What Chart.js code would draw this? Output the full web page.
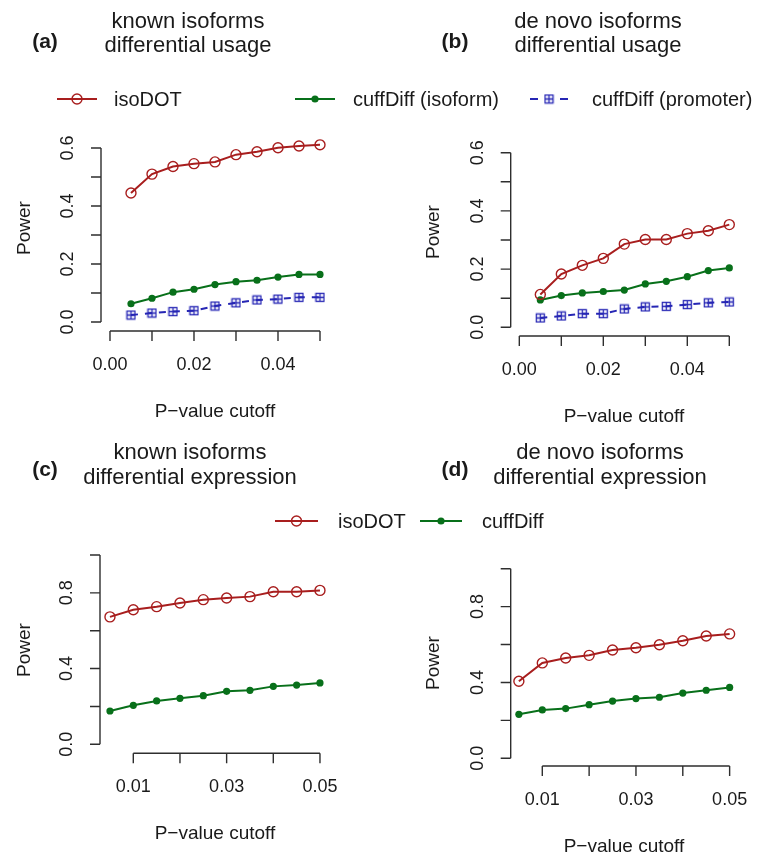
<!DOCTYPE html>
<html>
<head>
<meta charset="utf-8">
<script src="https://cdn.jsdelivr.net/npm/chart.js@4.4.0/dist/chart.umd.min.js"></script>
<style>
body { margin: 0; background: #fff; }
#page { position: relative; width: 768px; height: 857px; font-family: "Liberation Sans", Arial, sans-serif; color: #1a1a1a; overflow: hidden; }
#page canvas { position: absolute; left: 0; top: 0; }
.t { position: absolute; white-space: nowrap; transform: translate(-50%, -50%); line-height: 1; }
.ttl { font-size: 22px; }
.tag { font-size: 21px; font-weight: bold; }
.lab { font-size: 19px; }
.rot { transform: translate(-50%, -50%) rotate(-90deg); }
</style>
</head>
<body>
<div id="page">
  <canvas id="pa" width="768" height="857"></canvas>
  <canvas id="pb" width="768" height="857"></canvas>
  <canvas id="pc" width="768" height="857"></canvas>
  <canvas id="pd" width="768" height="857"></canvas>

  <div class="t tag" style="left:45px;top:40px">(a)</div>
  <div class="t ttl" style="left:188px;top:21px">known isoforms</div>
  <div class="t ttl" style="left:188px;top:45px">differential usage</div>
  <div class="t tag" style="left:455px;top:40px">(b)</div>
  <div class="t ttl" style="left:598px;top:21px">de novo isoforms</div>
  <div class="t ttl" style="left:598px;top:45px">differential usage</div>
  <div class="t tag" style="left:45px;top:468px">(c)</div>
  <div class="t ttl" style="left:190px;top:452px">known isoforms</div>
  <div class="t ttl" style="left:190px;top:477px">differential expression</div>
  <div class="t tag" style="left:455px;top:468px">(d)</div>
  <div class="t ttl" style="left:600px;top:452px">de novo isoforms</div>
  <div class="t ttl" style="left:600px;top:477px">differential expression</div>

  <div class="t lab rot" style="left:23px;top:228px">Power</div>
  <div class="t lab rot" style="left:432px;top:232px">Power</div>
  <div class="t lab rot" style="left:23px;top:650px">Power</div>
  <div class="t lab rot" style="left:432px;top:663px">Power</div>
  <div class="t lab" style="left:215px;top:410px">P−value cutoff</div>
  <div class="t lab" style="left:624px;top:415px">P−value cutoff</div>
  <div class="t lab" style="left:215px;top:832px">P−value cutoff</div>
  <div class="t lab" style="left:624px;top:845px">P−value cutoff</div>
</div>
<script>
// p-value cutoffs on the x axis
const cutoffs = [0.005, 0.01, 0.015, 0.02, 0.025, 0.03, 0.035, 0.04, 0.045, 0.05];

// (a) known isoforms, differential usage
const knownUsageIsoDOT = [0.445, 0.510, 0.536, 0.546, 0.552, 0.577, 0.587, 0.601, 0.607, 0.611];
const knownUsageCuffIso = [0.063, 0.082, 0.103, 0.113, 0.129, 0.139, 0.144, 0.155, 0.164, 0.164];
const knownUsageCuffProm = [0.024, 0.031, 0.036, 0.039, 0.055, 0.066, 0.076, 0.079, 0.085, 0.085];
// (b) de novo isoforms, differential usage
const novoUsageIsoDOT = [0.113, 0.183, 0.213, 0.237, 0.286, 0.302, 0.302, 0.322, 0.332, 0.353];
const novoUsageCuffIso = [0.094, 0.109, 0.118, 0.123, 0.128, 0.149, 0.158, 0.174, 0.195, 0.204];
const novoUsageCuffProm = [0.032, 0.039, 0.047, 0.047, 0.063, 0.070, 0.072, 0.078, 0.084, 0.087];
// (c) known isoforms, differential expression
const knownExprIsoDOT = [0.673, 0.711, 0.727, 0.746, 0.764, 0.773, 0.780, 0.806, 0.806, 0.813];
const knownExprCuff = [0.176, 0.206, 0.229, 0.243, 0.257, 0.280, 0.285, 0.306, 0.313, 0.324];
// (d) de novo isoforms, differential expression
const novoExprIsoDOT = [0.406, 0.503, 0.529, 0.543, 0.571, 0.583, 0.599, 0.620, 0.645, 0.656];
const novoExprCuff = [0.232, 0.255, 0.262, 0.283, 0.302, 0.315, 0.322, 0.344, 0.359, 0.374];

const usageNames = ['isoDOT', 'cuffDiff (isoform)', 'cuffDiff (promoter)'];
const exprNames = ['isoDOT', 'cuffDiff'];

// ticks (empty label = tick mark only, as R drops crowded labels)
const usageXTicks = [0, 0.01, 0.02, 0.03, 0.04, 0.05];
const usageXLabels = ['0.00', '', '0.02', '', '0.04', ''];
const usageYTicks = [0, 0.1, 0.2, 0.3, 0.4, 0.5, 0.6];
const usageYLabels = ['0.0', '', '0.2', '', '0.4', '', '0.6'];
const exprXTicks = [0.01, 0.02, 0.03, 0.04, 0.05];
const exprXLabels = ['0.01', '', '0.03', '', '0.05'];
const exprYTicks = [0, 0.2, 0.4, 0.6, 0.8, 1.0];
const exprYLabels = ['0.0', '', '0.4', '', '0.8', ''];

const RED = '#a81e1e', GREEN = '#08701a', BLUE = '#2626b4', INK = '#1a1a1a', AXIS = '#2e2e2e';
const FONT = '"Liberation Sans", Arial, sans-serif';

// pch 12 style marker: square with a plus inside
const boxPlus = document.createElement('canvas');
boxPlus.width = 11; boxPlus.height = 11;
(function () {
	const c = boxPlus.getContext('2d');
	c.strokeStyle = BLUE; c.lineWidth = 1.3;
	c.strokeRect(1.5, 1.5, 8, 8);
	c.beginPath();
	c.moveTo(5.5, 1.5); c.lineTo(5.5, 9.5);
	c.moveTo(1.5, 5.5); c.lineTo(9.5, 5.5);
	c.stroke();
})();

function isoDOTSet(vals) {
	return { label: 'isoDOT', data: cutoffs.map((c, i) => ({ x: c, y: vals[i] })), borderColor: RED, borderWidth: 2,
		pointStyle: 'circle', pointRadius: 5, pointBorderWidth: 1.4, pointBorderColor: RED, pointBackgroundColor: 'rgba(0,0,0,0)', tension: 0 };
}
function cuffSet(vals, name) {
	return { label: name, data: cutoffs.map((c, i) => ({ x: c, y: vals[i] })), borderColor: GREEN, borderWidth: 2,
		pointStyle: 'circle', pointRadius: 3.6, pointBorderWidth: 0, pointBackgroundColor: GREEN, tension: 0 };
}
function promSet(vals, name) {
	return { label: name, data: cutoffs.map((c, i) => ({ x: c, y: vals[i] })), borderColor: BLUE, borderWidth: 2,
		borderDash: [7, 7], pointStyle: boxPlus, pointRadius: 5, tension: 0 };
}

function drawMarker(ctx, ds, x, y) {
	if (ds.pointStyle === boxPlus) { ctx.drawImage(boxPlus, x - 5.5, y - 5.5); return; }
	ctx.beginPath();
	ctx.arc(x, y, ds.pointRadius, 0, Math.PI * 2);
	if (ds.pointBorderWidth) { ctx.lineWidth = ds.pointBorderWidth; ctx.strokeStyle = ds.pointBorderColor; ctx.stroke(); }
	else { ctx.fillStyle = ds.pointBackgroundColor; ctx.fill(); }
}

// R style detached axes
const rAxes = {
	id: 'rAxes',
	afterDraw(chart, args, o) {
		const ctx = chart.ctx, xs = chart.scales.x, ys = chart.scales.y, ca = chart.chartArea;
		ctx.save();
		ctx.strokeStyle = AXIS; ctx.lineWidth = 1.4; ctx.setLineDash([]);
		const ax = ca.left, ay = ca.bottom;
		ctx.beginPath();
		ctx.moveTo(ax, ys.getPixelForValue(o.yTicks[0]));
		ctx.lineTo(ax, ys.getPixelForValue(o.yTicks[o.yTicks.length - 1]));
		o.yTicks.forEach(v => { const p = ys.getPixelForValue(v); ctx.moveTo(ax, p); ctx.lineTo(ax - 10, p); });
		ctx.moveTo(xs.getPixelForValue(o.xTicks[0]), ay);
		ctx.lineTo(xs.getPixelForValue(o.xTicks[o.xTicks.length - 1]), ay);
		o.xTicks.forEach(v => { const p = xs.getPixelForValue(v); ctx.moveTo(p, ay); ctx.lineTo(p, ay + 10); });
		ctx.stroke();

		ctx.fillStyle = INK;
		ctx.font = '18px ' + FONT;
		ctx.textAlign = 'center'; ctx.textBaseline = 'middle';
		o.yTicks.forEach((v, i) => {
			if (!o.yLabels[i]) return;
			ctx.save();
			ctx.translate(ax - 33, ys.getPixelForValue(v));
			ctx.rotate(-Math.PI / 2);
			ctx.fillText(o.yLabels[i], 0, 0);
			ctx.restore();
		});
		o.xTicks.forEach((v, i) => {
			if (!o.xLabels[i]) return;
			ctx.fillText(o.xLabels[i], xs.getPixelForValue(v), ay + 34);
		});
		ctx.restore();
	}
};

// legend row: line + marker + label for each dataset
const rLegend = {
	id: 'rLegend',
	afterDraw(chart, args, o) {
		if (!o.items) return;
		const ctx = chart.ctx;
		ctx.save();
		chart.data.datasets.forEach((ds, i) => {
			const it = o.items[i];
			ctx.strokeStyle = ds.borderColor; ctx.lineWidth = 2;
			ctx.beginPath();
			if (ds.borderDash) {
				ctx.moveTo(it[0], o.y); ctx.lineTo(it[0] + 8, o.y);
				ctx.moveTo(it[1] - 8, o.y); ctx.lineTo(it[1], o.y);
			} else {
				ctx.moveTo(it[0], o.y); ctx.lineTo(it[1], o.y);
			}
			ctx.stroke();
			drawMarker(ctx, ds, (it[0] + it[1]) / 2, o.y);
			ctx.fillStyle = INK;
			ctx.font = '20px ' + FONT;
			ctx.textAlign = 'left'; ctx.textBaseline = 'middle';
			ctx.fillText(ds.label, it[2], o.y + 1);
		});
		ctx.restore();
	}
};

function panel(id, datasets, area, lim, axes, legend) {
	new Chart(document.getElementById(id), {
		type: 'line',
		data: { datasets: datasets },
		options: {
			responsive: false, animation: false, events: [],
			layout: { padding: { left: area[0], top: area[1], right: 768 - area[2], bottom: 857 - area[3] } },
			scales: {
				x: { type: 'linear', display: false, min: lim[0], max: lim[1] },
				y: { type: 'linear', display: false, min: lim[2], max: lim[3] }
			},
			elements: { line: { clip: false } },
			plugins: { legend: { display: false }, tooltip: { enabled: false }, rAxes: axes, rLegend: legend || {} }
		},
		plugins: [rAxes, rLegend]
	});
}

const usageAxes = { xTicks: usageXTicks, xLabels: usageXLabels, yTicks: usageYTicks, yLabels: usageYLabels };
const exprAxes = { xTicks: exprXTicks, xLabels: exprXLabels, yTicks: exprYTicks, yLabels: exprYLabels };

panel('pa', [isoDOTSet(knownUsageIsoDOT), cuffSet(knownUsageCuffIso, usageNames[1]), promSet(knownUsageCuffProm, usageNames[2])],
	[101, 139.3, 328.4, 331], [-0.00214, 0.052, -0.031, 0.63], usageAxes,
	{ y: 99, items: [[57, 97, 114], [295, 335, 353], [530, 568, 592]] });
panel('pb', [isoDOTSet(novoUsageIsoDOT), cuffSet(novoUsageCuffIso, usageNames[1]), promSet(novoUsageCuffProm, usageNames[2])],
	[510.7, 144, 737.7, 336], [-0.00205, 0.052, -0.0299, 0.63], usageAxes);
panel('pc', [isoDOTSet(knownExprIsoDOT), cuffSet(knownExprCuff, exprNames[1])],
	[100, 547.4, 329.3, 753.3], [0.002865, 0.052, -0.0475, 1.04], exprAxes,
	{ y: 521, items: [[275, 318, 338], [420, 462, 482]] });
panel('pd', [isoDOTSet(novoExprIsoDOT), cuffSet(novoExprCuff, exprNames[1])],
	[510.7, 561.1, 739, 766], [0.003255, 0.052, -0.0406, 1.04], exprAxes);
</script>
</body>
</html>
